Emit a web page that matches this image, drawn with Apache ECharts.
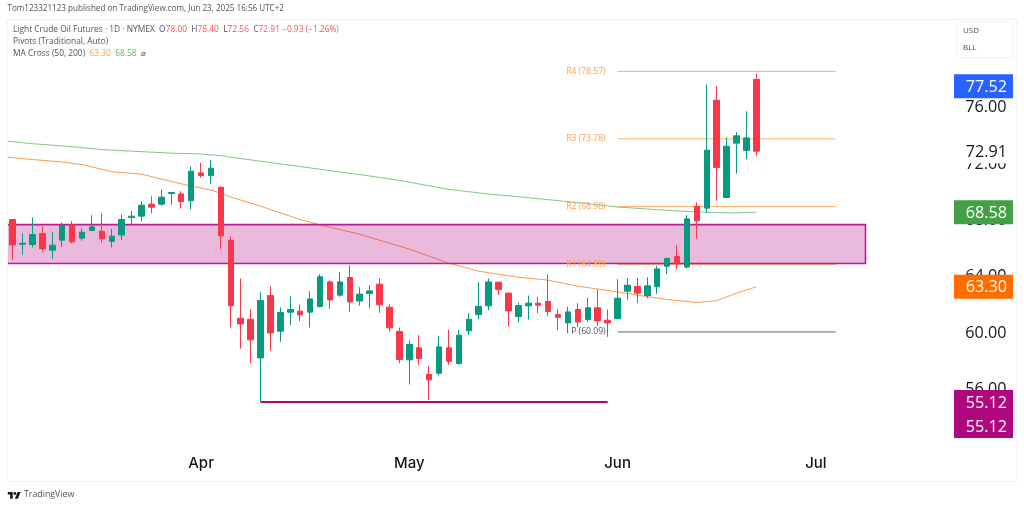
<!DOCTYPE html>
<html>
<head>
<meta charset="utf-8">
<title>Light Crude Oil Futures</title>
<style>
  html, body { margin: 0; padding: 0; background: #fff; }
  #chart { width: 1024px; height: 507px; }
</style>
<script src="https://cdn.jsdelivr.net/npm/echarts@6/dist/echarts.min.js"></script>
</head>
<body>
<div id="chart"></div>
<script>
// first entry is the session just off the left edge, it has no candle but the
// averages and the zone run through it; the last ones are empty future sessions
var categories = [
  '03-04',
  '03-05','03-06','03-07','03-10','03-11','03-12','03-13','03-14','03-17','03-18',
  '03-19','03-20','03-21','03-24','03-25','03-26','03-27','03-28','03-31','04-01',
  '04-02','04-03','04-04','04-07','04-08','04-09','04-10','04-11','04-14','04-15',
  '04-16','04-17','04-21','04-22','04-23','04-24','04-25','04-28','04-29','04-30',
  '05-01','05-02','05-05','05-06','05-07','05-08','05-09','05-12','05-13','05-14',
  '05-15','05-16','05-19','05-20','05-21','05-22','05-23','05-27','05-28','05-29',
  '05-30','06-02','06-03','06-04','06-05','06-06','06-09','06-10','06-11','06-12',
  '06-13','06-16','06-17','06-18','06-20','06-23','06-24','06-25','06-26','06-27',
  '06-30','07-01','07-02','07-03','07-07','07-08','07-09','07-10','07-11','07-14',
  '07-15','07-16','07-17','07-18','07-21','07-22'
];
var monthTicks = { '04-01': 'Apr', '05-01': 'May', '06-02': 'Jun', '07-01': 'Jul' };

var opens = [
  68.06,66.31,66.29,67.07,65.89,66.60,67.68,66.74,67.28,67.23,
  66.52,66.97,68.20,68.30,69.15,69.15,69.91,69.88,69.39,71.37,
  71.18,70.35,66.60,61.06,60.99,58.25,62.67,60.14,61.49,61.56,
  61.49,61.89,63.64,62.70,63.95,62.29,62.81,63.48,61.84,60.12,
  58.11,58.96,57.07,57.16,58.96,57.85,60.17,61.32,61.94,63.62,
  62.84,61.18,61.94,62.13,62.25,61.32,60.73,61.68,60.97,61.80,
  60.92,61.04,62.98,63.31,62.67,63.29,64.75,65.44,64.70,69.00,
  68.87,76.52,69.62,73.48,72.96,78.00
];
var closes = [
  66.26,66.38,67.00,65.98,66.24,67.64,66.48,67.16,67.54,66.69,
  66.88,68.06,68.30,69.08,68.94,69.65,69.98,69.34,71.49,71.18,
  71.70,66.90,61.94,60.66,59.53,62.32,60.02,61.47,61.68,61.30,
  62.43,64.00,62.36,63.64,62.22,62.77,63.00,62.01,60.38,58.13,
  59.20,58.20,56.69,59.03,58.01,59.86,60.99,61.91,63.64,63.10,
  61.58,61.96,62.13,61.99,61.54,61.13,61.51,60.80,61.80,60.87,
  60.73,62.48,63.40,62.84,63.36,64.56,65.30,64.96,68.11,67.97,
  72.98,71.75,73.26,74.00,73.85,72.91
];
var lows = [
  65.18,65.56,66.08,65.74,65.27,66.12,66.36,66.55,67.25,66.41,
  66.08,66.60,67.68,67.92,68.49,69.05,69.10,68.84,68.79,71.02,
  70.57,65.96,60.40,58.91,57.85,55.12,58.75,59.39,60.57,60.85,
  60.40,61.82,61.73,62.58,61.51,61.96,61.77,61.44,60.09,57.87,
  56.36,57.73,55.27,57.00,57.75,57.75,59.86,60.99,61.63,62.72,
  60.45,60.76,60.97,61.42,61.21,60.21,60.00,60.43,60.80,60.52,
  59.74,60.99,62.36,62.15,62.48,62.79,64.18,64.56,64.59,66.69,
  68.53,69.39,69.60,71.32,72.34,72.56
];
var highs = [
  68.10,67.09,68.20,67.59,67.16,67.85,67.94,67.45,68.37,68.49,
  67.40,68.42,68.65,69.36,69.72,70.19,70.00,70.07,71.82,72.10,
  72.29,70.40,66.88,63.88,61.70,62.91,63.33,61.82,62.62,62.03,
  62.98,64.18,63.76,64.33,64.82,63.26,63.40,63.90,62.06,60.40,
  59.50,59.86,57.66,59.79,60.24,60.24,61.44,63.62,63.88,63.65,
  62.88,62.17,62.67,62.60,64.18,61.70,61.87,62.13,62.53,63.10,
  61.68,63.83,63.88,63.92,63.97,64.78,65.39,66.24,68.37,69.29,
  77.64,77.52,73.88,74.26,75.74,78.40
];

// moving averages at these slots of categories
var ma200Bars = [0,1,3,7,10,13,17,20,22,23,27,30,33,37,40,43,45,49,52,56,59,62,66,69,72,74,76];
var ma200Values = [73.65,73.58,73.44,73.23,73.02,72.91,72.77,72.71,72.59,72.48,72.10,71.82,71.53,71.15,70.84,70.45,70.20,69.87,69.68,69.40,69.19,68.95,68.76,68.63,68.55,68.53,68.58];
var ma50Bars = [0,1,3,6,8,11,14,17,19,21,23,26,30,32,36,41,45,48,52,55,58,62,64,67,70,72,74,76];
var ma50Values = [72.50,72.45,72.32,72.14,71.96,71.45,71.28,70.76,70.43,70.16,69.65,69.01,68.06,67.68,67.02,65.96,64.96,64.40,63.97,63.76,63.33,62.93,62.70,62.39,62.18,62.30,62.84,63.30];

var pivotNames = ['R4', 'R3', 'R2', 'R1', 'P'];
var pivotValues = [78.57, 73.78, 68.98, 64.89, 60.09];
var pivotColors = ['#ffb066', '#ffb066', '#ffb066', '#ffa04d', '#5f6368'];
var pivotLabelColors = ['#ff9f40', '#ff9f40', '#ff9f40', '#ff9f40', '#50535e'];
var pivotFrom = 62, pivotTo = 84;

var zoneFrom = 0, zoneTo = 87, zoneTop = 67.70, zoneBottom = 64.94;
var lowLineFrom = 26, lowLineTo = 61, lowLineValue = 55.12;

var tickLabels = [56, 60, 64, 68, 72, 76];
var badgeValues = [77.52, 72.91, 68.58, 63.30, 55.12, 55.12];
var badgeColors = ['#2962ff', '#ffffff', '#43a047', '#ff6d00', '#b0077e', '#b0077e'];
var badgeText = ['#ffffff', '#131722', '#ffffff', '#ffffff', '#ffffff', '#ffffff'];
var badgeShift = [0, 0, 0, 0, 0, 24];

var FONT = '"Open Sans", sans-serif';
var MONTH_FONT = 'Inter, "Open Sans", sans-serif';
var RED = '#f7374a', TEAL = '#089981';

function pairs(bars, values) {
  return bars.map(function (b, i) { return [b, values[i]]; });
}

var pivotSeries = pivotNames.map(function (name, i) {
  return {
    type: 'line',
    name: name,
    z: 2,
    silent: true,
    showSymbol: false,
    lineStyle: { color: pivotColors[i], width: 1 },
    data: [[pivotFrom, pivotValues[i]], [pivotTo, pivotValues[i]]],
    markPoint: {
      symbolSize: 0,
      silent: true,
      label: {
        show: true,
        position: 'left',
        distance: 12,
        formatter: name + ' (' + pivotValues[i].toFixed(2) + ')',
        color: pivotLabelColors[i],
        fontFamily: FONT,
        fontSize: 8.6
      },
      data: [{ coord: [pivotFrom, pivotValues[i]] }]
    }
  };
});

var option = {
  animation: false,
  backgroundColor: '#ffffff',
  grid: { left: -2.215, right: 64.3, top: 23, bottom: 61, outerBoundsMode: 'none' },
  xAxis: {
    type: 'category',
    data: categories,
    boundaryGap: true,
    axisLine: { show: false },
    axisTick: { show: false },
    splitLine: { show: false },
    axisLabel: {
      interval: function (i, v) { return !!monthTicks[v]; },
      formatter: function (v) { return monthTicks[v] || ''; },
      color: '#131722',
      fontFamily: MONTH_FONT,
      fontSize: 15,
      fontWeight: 500,
      margin: 10
    }
  },
  yAxis: {
    type: 'value',
    position: 'right',
    min: 52,
    max: 82,
    interval: 4,
    axisLine: { show: false },
    axisTick: { show: false },
    splitLine: { show: false },
    axisLabel: {
      formatter: function (v) { return tickLabels.indexOf(v) >= 0 ? v.toFixed(2) : ''; },
      color: '#131722',
      fontFamily: FONT,
      fontSize: 16.2,
      padding: [5, 0, 0, 0],
      margin: 5.5
    }
  },
  series: pivotSeries.concat([
    {
      type: 'line',
      name: 'MA 200',
      z: 2,
      silent: true,
      showSymbol: false,
      lineStyle: { color: '#81c784', width: 1 },
      data: pairs(ma200Bars, ma200Values)
    },
    {
      type: 'line',
      name: 'MA 50',
      z: 2,
      silent: true,
      showSymbol: false,
      lineStyle: { color: '#ff9a4d', width: 1 },
      data: pairs(ma50Bars, ma50Values)
    },
    {
      type: 'line',
      name: 'Low',
      z: 3,
      silent: true,
      showSymbol: false,
      lineStyle: { color: '#b0077e', width: 2 },
      data: [[lowLineFrom, lowLineValue], [lowLineTo, lowLineValue]]
    },
    {
      // shaded zone sits over the averages and under the candles
      type: 'custom',
      name: 'Zone',
      z: 3,
      silent: true,
      encode: { x: 0, y: 2 },
      data: [[zoneFrom, zoneTo, zoneTop, zoneBottom]],
      renderItem: function (params, api) {
        var a = api.coord([api.value(0), api.value(2)]);
        var b = api.coord([api.value(1), api.value(3)]);
        return {
          type: 'rect',
          shape: { x: a[0], y: a[1], width: b[0] - a[0], height: b[1] - a[1] },
          style: { fill: 'rgba(176,7,126,0.28)', stroke: '#b91e90', lineWidth: 1.6 }
        };
      }
    },
    {
      type: 'candlestick',
      name: 'Light Crude Oil Futures',
      z: 4,
      silent: true,
      barWidth: 6,
      itemStyle: { color: TEAL, color0: RED, borderColor: TEAL, borderColor0: RED, borderWidth: 1 },
      data: ['-'].concat(opens.map(function (o, i) { return [o, closes[i], lows[i], highs[i]]; }))
    },
    {
      // price tags on the axis, placed vertically by the value scale
      type: 'custom',
      name: 'Tags',
      z: 10,
      silent: true,
      clip: false,
      encode: { y: 1 },
      data: badgeValues.map(function (v, i) { return [76, v, i]; }),
      renderItem: function (params, api) {
        var i = api.value(2);
        var y = api.coord([api.value(0), api.value(1)])[1] + badgeShift[i];
        return {
          type: 'group',
          children: [
            { type: 'rect', shape: { x: 954, y: y - 12, width: 59, height: 24 }, style: { fill: badgeColors[i] } },
            {
              type: 'text',
              style: {
                x: 1007, y: y + 1,
                text: badgeValues[i].toFixed(2),
                fill: badgeText[i],
                align: 'right',
                verticalAlign: 'middle',
                fontFamily: FONT,
                fontSize: 16.2
              }
            }
          ]
        };
      }
    }
  ]),
  graphic: [
    // white gutter left of the pane hides what runs off the left edge
    { type: 'rect', z: 15, silent: true, shape: { x: 0, y: 0, width: 7.5, height: 507 }, style: { fill: '#ffffff' } },
    { type: 'rect', z: 16, silent: true, shape: { x: 7.5, y: 19.5, width: 1009, height: 462 }, style: { fill: 'none', stroke: '#f0f3fa', lineWidth: 1 } },
    { type: 'rect', z: 20, silent: true, shape: { x: 956.5, y: 22.5, width: 57, height: 35, r: 3 }, style: { fill: '#ffffff', stroke: '#f0f3fa', lineWidth: 1 } },
    { type: 'text', z: 21, silent: true, x: 963, y: 26.5, style: { text: 'USD', fill: '#50535e', fontFamily: FONT, fontSize: 8 } },
    { type: 'text', z: 21, silent: true, x: 963, y: 44, style: { text: 'BLL', fill: '#50535e', fontFamily: FONT, fontSize: 8 } },
    { type: 'text', z: 21, silent: true, x: 7.5, y: 5, style: { text: 'Tom123321123 published on TradingView.com, Jun 23, 2025 16:56 UTC+2', fill: '#50535e', fontFamily: FONT, fontSize: 8.1 } },
    {
      type: 'text', z: 21, silent: true, x: 13, y: 25.5,
      style: {
        text: 'Light Crude Oil Futures · 1D · NYMEX  O{r|78.00}  H{r|78.40}  L{r|72.56}  C{r|72.91} {r|−0.93 (−1.26%)}',
        fill: '#50535e', fontFamily: FONT, fontSize: 8.4,
        rich: { r: { fill: '#f7525f', fontFamily: FONT, fontSize: 8.4 } }
      }
    },
    { type: 'text', z: 21, silent: true, x: 13, y: 37.5, style: { text: 'Pivots (Traditional, Auto)', fill: '#50535e', fontFamily: FONT, fontSize: 8.4 } },
    {
      type: 'text', z: 21, silent: true, x: 13, y: 49.5,
      style: {
        text: 'MA Cross (50, 200)  {o|63.30}  {g|68.58}  ⌀',
        fill: '#50535e', fontFamily: FONT, fontSize: 8.4,
        rich: {
          o: { fill: '#ff9a4d', fontFamily: FONT, fontSize: 8.4 },
          g: { fill: '#66bb6a', fontFamily: FONT, fontSize: 8.4 }
        }
      }
    },
    {
      // TradingView mark
      type: 'group', z: 21, silent: true, x: 7.5, y: 490.5, scaleX: 0.37, scaleY: 0.37,
      children: [
        { type: 'polygon', shape: { points: [[0, 4], [14, 4], [14, 22], [7, 22], [7, 11], [0, 11]] }, style: { fill: '#131722' } },
        { type: 'polygon', shape: { points: [[27.5, 4], [35.5, 4], [28, 22], [20, 22]] }, style: { fill: '#131722' } },
        { type: 'circle', shape: { cx: 20, cy: 8, r: 4 }, style: { fill: '#131722' } }
      ]
    },
    { type: 'text', z: 21, silent: true, x: 24, y: 490, style: { text: 'TradingView', fill: '#50535e', fontFamily: FONT, fontSize: 8.8 } }
  ]
};

var chart = echarts.init(document.getElementById('chart'), null, { width: 1024, height: 507 });
chart.setOption(option);
</script>
</body>
</html>
